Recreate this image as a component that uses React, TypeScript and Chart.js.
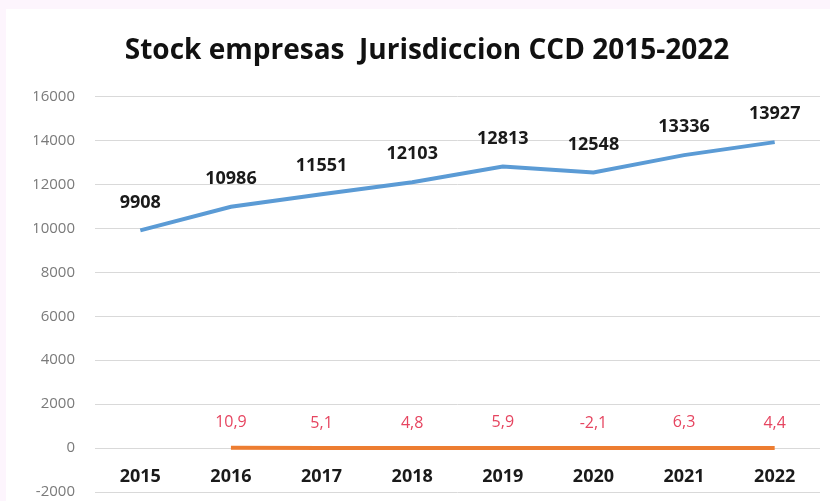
import React, { useEffect, useRef } from "react";
import { Chart, registerables } from "chart.js";

Chart.register(...registerables);

const years = ["2015", "2016", "2017", "2018", "2019", "2020", "2021", "2022"];
const stockEmpresas = [9908, 10986, 11551, 12103, 12813, 12548, 13336, 13927];
const variacion = [null, 10.9, 5.1, 4.8, 5.9, -2.1, 6.3, 4.4];
const yMin = -2000;
const yMax = 16000;
const yStep = 2000;
const titleText = "Stock empresas  Jurisdiccion CCD 2015-2022";

const FONT = "'Open Sans', 'DejaVu Sans', sans-serif";

const labelPlugin = {
  id: "valueLabels",
  afterDatasetsDraw(chart: any) {
    const ctx = chart.ctx;
    ctx.save();
    ctx.textAlign = "center";
    ctx.textBaseline = "middle";
    const m0 = chart.getDatasetMeta(0);
    ctx.font = `bold 18px ${FONT}`;
    ctx.fillStyle = "#1a1a1a";
    m0.data.forEach((pt: any, i: number) => {
      ctx.fillText(String(stockEmpresas[i]), pt.x, pt.y - 28);
    });
    const m1 = chart.getDatasetMeta(1);
    ctx.font = `16px ${FONT}`;
    ctx.fillStyle = "#e64560";
    m1.data.forEach((pt: any, i: number) => {
      const v = variacion[i];
      if (v === null || v === undefined) return;
      ctx.fillText(v.toFixed(1).replace(".", ","), pt.x, pt.y - 25);
    });
    ctx.restore();
  },
};

export default function App() {
  const ref = useRef<HTMLCanvasElement | null>(null);
  useEffect(() => {
    document.body.style.margin = "0";
    document.body.style.background = "#fdf5fd";
    const chart = new Chart(ref.current as HTMLCanvasElement, {
      type: "line",
      data: {
        labels: years,
        datasets: [
          {
            label: "Stock",
            data: stockEmpresas,
            borderColor: "#5b9bd5",
            backgroundColor: "#5b9bd5",
            borderWidth: 4,
            pointRadius: 0,
            tension: 0,
          },
          {
            label: "Variación %",
            data: variacion,
            borderColor: "#ed7d31",
            backgroundColor: "#ed7d31",
            borderWidth: 4,
            pointRadius: 0,
            tension: 0,
          },
        ],
      },
      options: {
        animation: false,
        responsive: false,
        maintainAspectRatio: false,
        layout: { padding: { left: 28, right: 10, top: 0, bottom: 9 } },
        plugins: {
          legend: { display: false },
          tooltip: { enabled: false },
          title: {
            display: true,
            text: titleText,
            color: "#111111",
            font: { family: FONT, size: 28, weight: "bold" },
            padding: { top: 25, bottom: 29 },
          },
        },
        scales: {
          x: {
            position: { y: 0 } as any,
            offset: true,
            grid: { display: false, drawTicks: false },
            border: { display: false },
            afterFit: (s: any) => {
              s.height = 0;
            },
            ticks: {
              padding: 18,
              color: "#1a1a1a",
              font: { family: FONT, size: 18, weight: "bold" },
            },
          },
          y: {
            min: yMin,
            max: yMax,
            grid: {
              color: "#d9d9d9",
              lineWidth: 1,
              drawTicks: true,
              tickLength: 20,
              tickColor: "rgba(0,0,0,0)",
            },
            border: { display: false },
            afterFit: (s: any) => {
              s.width = 61;
            },
            ticks: {
              stepSize: yStep,
              padding: 0,
              color: "#7a7a7a",
              font: { family: FONT, size: 15 },
              callback: (v: any) => String(v),
            },
          },
        },
      },
      plugins: [labelPlugin],
    } as any);
    return () => chart.destroy();
  }, []);
  return (
    <div style={{ paddingLeft: 6, paddingTop: 9, width: 824, height: 492 }}>
      <div style={{ background: "#ffffff", width: 824, height: 492 }}>
        <canvas ref={ref} width={824} height={492} style={{ display: "block" }} />
      </div>
    </div>
  );
}
